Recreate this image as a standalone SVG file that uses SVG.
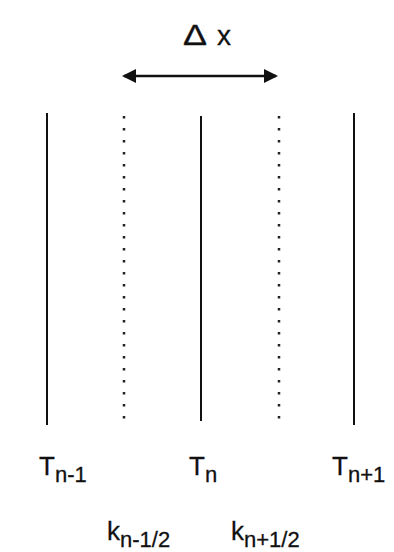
<svg xmlns="http://www.w3.org/2000/svg" width="394" height="552" viewBox="0 0 394 552">
<style>
.solid{stroke:#111;stroke-width:2;fill:none}
.arrow{stroke:#111;stroke-width:2.5;fill:none}
.dot{stroke:#222;stroke-width:2.5;fill:none;stroke-dasharray:2.5 9.5}
.lbl{font-family:"Liberation Sans",Arial,sans-serif;fill:#111;stroke:#111;stroke-width:0.3}
.main{font-size:26px}
.sub{font-size:22px}
</style>
<defs>
<marker id="ah" markerWidth="14" markerHeight="14" refX="12" refY="7" orient="auto-start-reverse" markerUnits="userSpaceOnUse">
<path d="M0,0 L14,7 L0,14 Z" fill="#111"/>
</marker>
</defs>
<rect width="394" height="552" fill="#fff"/>
<g id="connectors">
<line class="arrow" x1="124" y1="76" x2="276" y2="76" marker-start="url(#ah)" marker-end="url(#ah)"/>
</g>
<g id="dx-label">
<text class="lbl" x="183" y="45" font-size="29" textLength="24" lengthAdjust="spacingAndGlyphs" stroke-width="0.8">Δ</text>
<text class="lbl" x="217" y="45" font-size="28">x</text>
</g>
<g id="line-Tn-1"><line class="solid" x1="47" y1="113" x2="47" y2="425"/></g>
<g id="line-Tn"><line class="solid" x1="201" y1="116" x2="201" y2="421"/></g>
<g id="line-Tn+1"><line class="solid" x1="354" y1="113" x2="354" y2="425"/></g>
<g id="line-k-left"><line class="dot" x1="124" y1="116" x2="124" y2="422"/></g>
<g id="line-k-right"><line class="dot" x1="279" y1="116" x2="279" y2="422"/></g>
<g id="T-n-1"><text class="lbl main" x="39" y="475">T<tspan class="sub" dy="7">n-1</tspan></text></g>
<g id="T-n"><text class="lbl main" x="189" y="475">T<tspan class="sub" dy="7">n</tspan></text></g>
<g id="T-n+1"><text class="lbl main" x="332" y="475">T<tspan class="sub" dy="7">n+1</tspan></text></g>
<g id="k-n-1/2"><text class="lbl main" x="107" y="540">k<tspan class="sub" dy="7">n-1/2</tspan></text></g>
<g id="k-n+1/2"><text class="lbl main" x="231" y="540">k<tspan class="sub" dy="7">n+1/2</tspan></text></g>
</svg>
